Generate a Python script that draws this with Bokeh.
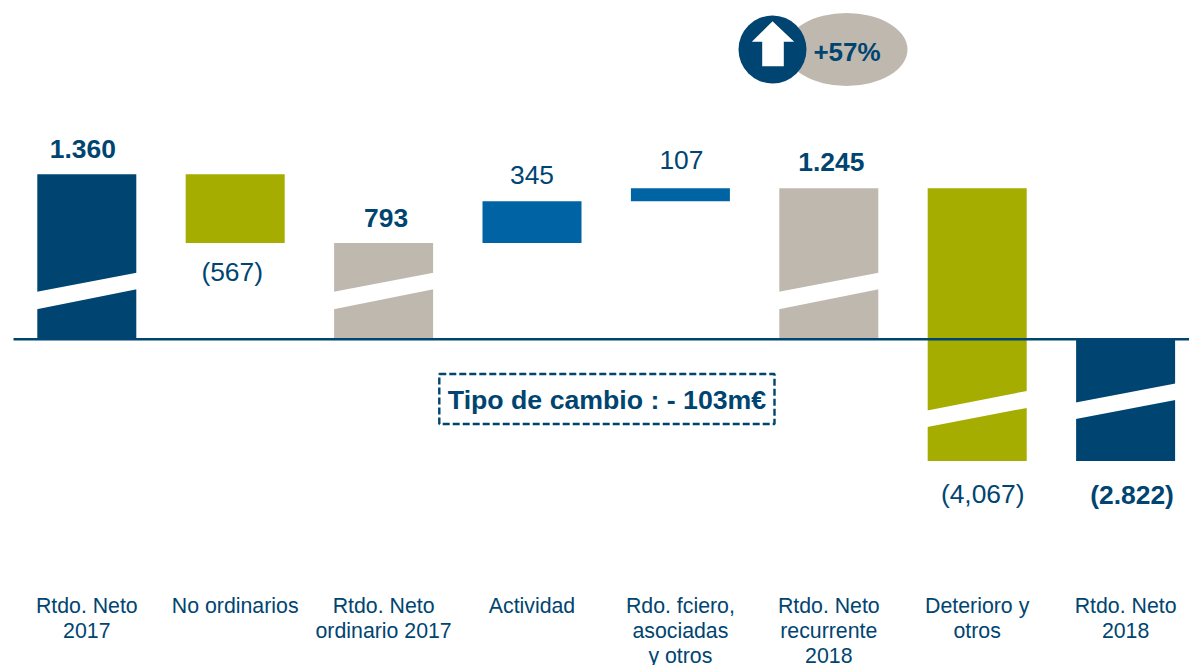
from bokeh.plotting import figure
from bokeh.embed import file_html
from bokeh.resources import INLINE
from bokeh.core.properties import value

categories = ["Rtdo. Neto\n2017", "No ordinarios", "Rtdo. Neto\nordinario 2017", "Actividad",
              "Rdo. fciero,\nasociadas\ny otros", "Rtdo. Neto\nrecurrente\n2018", "Deterioro y\notros", "Rtdo. Neto\n2018"]
values = [1360, -567, 793, 345, 107, 1245, -4067, -2822]
is_total = [True, False, True, False, False, True, False, True]
value_labels = ["1.360", "(567)", "793", "345", "107", "1.245", "(4,067)", "(2.822)"]
label_bold = [True, False, True, False, False, True, False, True]
NAVY, OLIVE, TAUPE, BLUE = "#004571", "#A5AD00", "#BFB8AE", "#0063A3"
bar_colors = [NAVY, OLIVE, TAUPE, BLUE, BLUE, TAUPE, OLIVE, NAVY]
broken = [True, False, True, False, False, True, True, True]
AXIS_BREAK = 1818   # units hidden by the broken axis below zero
callout = "+57%"
fx_note = "Tipo de cambio : - 103m€"
FONT = "Liberation Sans"

W, H = 1189, 665
PAGE = 0
STEP, X0 = 148.4, 86.3
PX_PER_UNIT, ZERO = 0.1212, 338.7

def X(px): return (px - X0) / STEP
def Y(py): return (ZERO - py) / PX_PER_UNIT
def disp(v): return v if v >= 0 else v + AXIS_BREAK

p = figure(width=W, height=H, output_backend="svg", toolbar_location=None,
           x_range=(X(PAGE), X(PAGE + W)), y_range=(Y(PAGE + H), Y(PAGE)),
           x_axis_location=None, y_axis_location=None, min_border=0, outline_line_color=None)
p.xgrid.visible = False
p.ygrid.visible = False
p.background_fill_color = "white"

# waterfall
tops, bots, run = [], [], 0
for v, t in zip(values, is_total):
    if t:
        a, b, run = 0, v, v
    else:
        a, b = run, run + v
        run = b
    tops.append(disp(max(a, b)))
    bots.append(disp(min(a, b)))
xs = list(range(len(values)))
BW = 99 / STEP
p.quad(left=[x - BW / 2 for x in xs], right=[x + BW / 2 for x in xs], top=tops, bottom=bots,
       fill_color=bar_colors, line_color=None)

# white slanted cuts of the broken bars (pixel offsets from the bar bottom / top)
for i, b in enumerate(broken):
    if not b:
        continue
    if tops[i] > 0 and bots[i] == 0:
        ul, ur, ll, lr = 47, 67, 29.5, 50.5
    elif i == 6:
        ul, ur, ll, lr = 50, 70.5, 33.5, 53.5
    else:
        ul, ur, ll, lr = 58, 78, 41.5, 61.5
    e = 0.02
    base = bots[i] * PX_PER_UNIT
    p.patch([i - BW / 2 - e, i + BW / 2 + e, i + BW / 2 + e, i - BW / 2 - e],
            [(base + ul) / PX_PER_UNIT, (base + ur) / PX_PER_UNIT, (base + lr) / PX_PER_UNIT, (base + ll) / PX_PER_UNIT],
            fill_color="white", line_color=None)

# axis line
p.segment(x0=[X(13)], y0=[0], x1=[X(1189)], y1=[0], line_color=NAVY, line_width=2.4)

# value labels
lab_y_off = [-25, 29, -25, -26, -28, -26, 33, 34]
lab_x_off = [-4, -3, 2.5, 0, 1, 2.5, 5.5, 6.5]
for bold in (True, False):
    idx = [i for i in xs if label_bold[i] == bold]
    p.text(x=[i for i in idx],
           y=[(tops[i] if values[i] > 0 else bots[i]) for i in idx],
           text=[value_labels[i] for i in idx],
           x_offset=[lab_x_off[i] for i in idx], y_offset=[lab_y_off[i] for i in idx],
           text_font=value(FONT), text_font_size="26.4px",
           text_font_style="bold" if bold else "normal",
           text_color=NAVY, text_align="center", text_baseline="middle")

# category labels
p.text(x=xs, y=[Y(593)] * len(xs), text=categories, text_font=value(FONT), text_font_size="21.3px",
       text_color=NAVY, text_align="center", text_baseline="top", text_line_height=1.06)

# dashed note box
p.quad(left=[X(438.8)], right=[X(774)], top=[Y(373.5)], bottom=[Y(423.5)], fill_color=None,
       line_color=NAVY, line_width=2.4, line_dash="7 3")
p.text(x=[X(606.5)], y=[Y(399.5)], text=[fx_note], text_font=value(FONT), text_font_size="26.7px",
       text_font_style="bold", text_color=NAVY, text_align="center", text_baseline="middle")

# +57% callout
p.ellipse(x=[X(846)], y=[Y(49)], width=[122 / STEP], height=[73 / PX_PER_UNIT], fill_color=TAUPE, line_color=None)
p.ellipse(x=[X(772)], y=[Y(49)], width=[68 / STEP], height=[68 / PX_PER_UNIT], fill_color=NAVY, line_color=None)
p.patch([X(a) for a in (772, 793.7, 783.3, 783.3, 761.7, 761.7, 751.3)],
        [Y(b) for b in (20.7, 41.3, 41.3, 65.7, 65.7, 41.3, 41.3)], fill_color="white", line_color=None)
p.text(x=[X(846.5)], y=[Y(51)], text=[callout], text_font=value(FONT), text_font_size="26px",
       text_font_style="bold", text_color=NAVY, text_align="center", text_baseline="middle")

open("out.html", "w").write(file_html(p, INLINE))
